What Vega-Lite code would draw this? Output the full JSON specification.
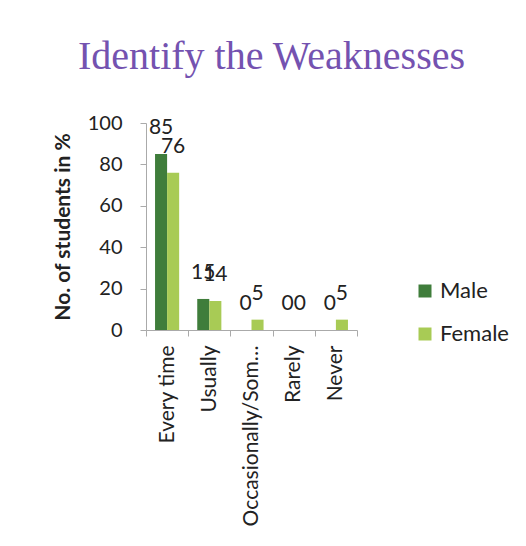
{
  "$schema": "https://vega.github.io/schema/vega-lite/v6.json",
  "autosize": "none",
  "width": 211,
  "height": 207,
  "padding": {"left": 146, "top": 123, "right": 169, "bottom": 216},
  "background": "white",
  "title": {
    "text": "Identify the Weaknesses",
    "font": "Liberation Serif",
    "fontSize": 40,
    "fontWeight": "normal",
    "color": "#7452b0",
    "anchor": "middle",
    "dx": 20,
    "offset": 36
  },
  "config": {
    "view": {"stroke": null},
    "font": "Lato"
  },
  "data": {
    "values": [
      {"category": "Every time", "gender": "Male", "value": 85},
      {"category": "Every time", "gender": "Female", "value": 76},
      {"category": "Usually", "gender": "Male", "value": 15},
      {"category": "Usually", "gender": "Female", "value": 14},
      {"category": "Occasionally/Sometimes", "gender": "Male", "value": 0},
      {"category": "Occasionally/Sometimes", "gender": "Female", "value": 5},
      {"category": "Rarely", "gender": "Male", "value": 0},
      {"category": "Rarely", "gender": "Female", "value": 0},
      {"category": "Never", "gender": "Male", "value": 0},
      {"category": "Never", "gender": "Female", "value": 5}
    ]
  },
  "encoding": {
    "x": {
      "field": "category",
      "type": "nominal",
      "sort": null,
      "scale": {"paddingInner": 0, "paddingOuter": 0},
      "axis": {
        "title": null,
        "labelAngle": -90,
        "labelFont": "Lato",
        "labelFontSize": 21,
        "labelColor": "#222",
        "labelLimit": 187,
        "labelPadding": 9,
        "domainColor": "#aaa",
        "tickColor": "#aaa",
        "tickSize": 6,
        "tickBand": "extent"
      }
    },
    "xOffset": {
      "field": "gender",
      "type": "nominal",
      "sort": ["Male", "Female"],
      "scale": {"paddingOuter": 0.75, "paddingInner": 0}
    },
    "y": {
      "field": "value",
      "type": "quantitative",
      "scale": {"domain": [0, 100]},
      "axis": {
        "title": "No. of students in %",
        "titleFont": "Lato",
        "titleFontSize": 21,
        "titleFontWeight": "bold",
        "titleColor": "#222",
        "titlePadding": 14,
        "labelFont": "Lato",
        "labelFontSize": 20,
        "labelColor": "#222",
        "values": [0, 20, 40, 60, 80, 100],
        "grid": false,
        "domainColor": "#aaa",
        "tickColor": "#aaa",
        "tickSize": 6,
        "labelPadding": 18
      }
    }
  },
  "layer": [
    {
      "mark": {"type": "bar"},
      "encoding": {
        "color": {
          "field": "gender",
          "type": "nominal",
          "sort": ["Male", "Female"],
          "scale": {"domain": ["Male", "Female"], "range": ["#3f7d3b", "#a8cb55"]},
          "legend": {
            "title": null,
            "orient": "none",
            "legendX": 268,
            "legendY": 157,
            "symbolType": "square",
            "symbolSize": 169,
            "labelFont": "Lato",
            "labelFontSize": 22,
            "labelColor": "#222",
            "rowPadding": 21,
            "labelOffset": 4
          }
        }
      }
    },
    {
      "mark": {"type": "text", "baseline": "bottom", "dy": -16, "font": "Lato", "fontSize": 21, "color": "#222"},
      "encoding": {
        "text": {"field": "value", "type": "quantitative"}
      }
    }
  ]
}
